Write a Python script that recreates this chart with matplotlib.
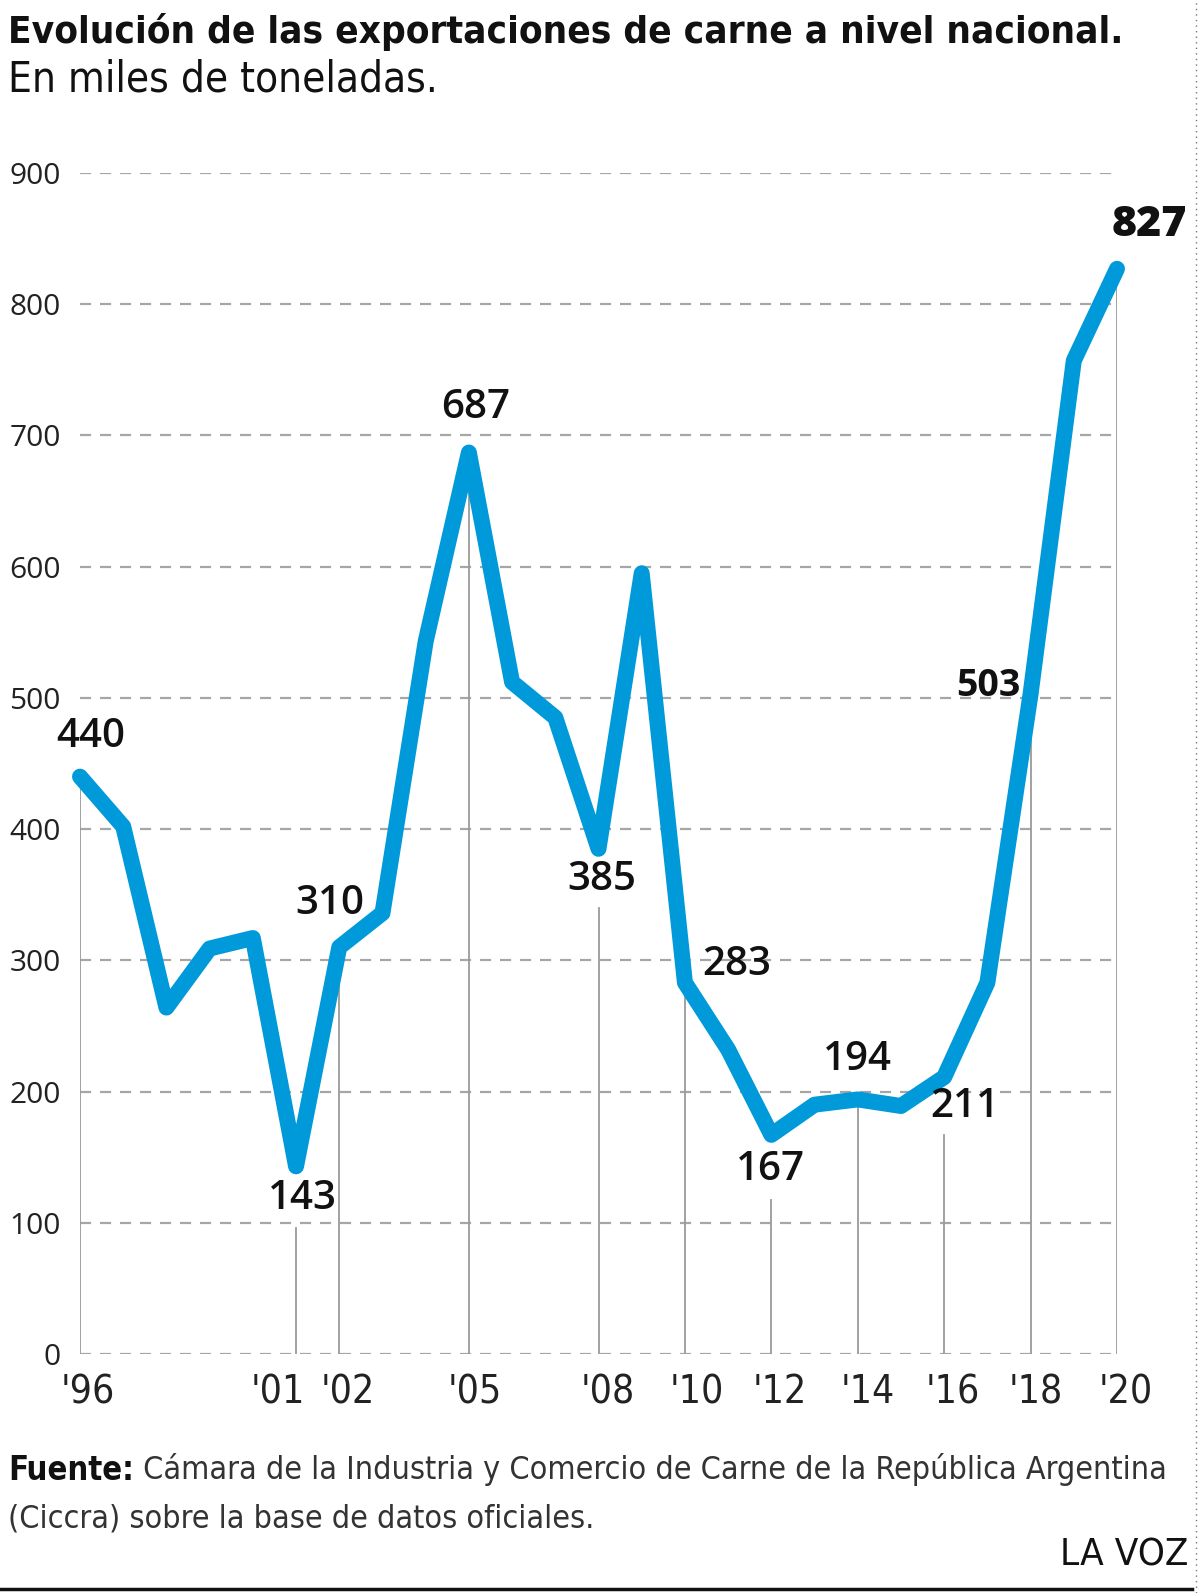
import matplotlib
matplotlib.use("Agg")
import matplotlib.pyplot as plt
from matplotlib.lines import Line2D
from matplotlib import font_manager as fm
from matplotlib.transforms import ScaledTranslation

# ---- data ----
years = list(range(1996, 2021))
exports = [440, 402, 264, 309, 317, 143, 310, 336, 543, 687, 512, 485, 385, 595,
           283, 232, 167, 190, 194, 189, 211, 283, 503, 757, 827]
yticks = [0, 100, 200, 300, 400, 500, 600, 700, 800, 900]
xtick_years = [1996, 2001, 2002, 2005, 2008, 2010, 2012, 2014, 2016, 2018, 2020]
xtick_labels = ["'96", "'01", "'02", "'05", "'08", "'10", "'12", "'14", "'16", "'18", "'20"]
drop_tops = [440, 96, 310, 687, 340, 283, 117, 194, 167, 500, 827]
label_years = [1996, 2001, 2002, 2005, 2008, 2010, 2012, 2014, 2016, 2018, 2020]
label_texts = ["440", "143", "310", "687", "385", "283", "167", "194", "211", "503", "827"]

title1 = "Evolución de las exportaciones de carne a nivel nacional."
title2 = "En miles de toneladas."
source_bold = "Fuente:"
source_rest1 = " Cámara de la Industria y Comercio de Carne de la República Argentina"
source_rest2 = "(Ciccra) sobre la base de datos oficiales."
brand = "LA VOZ"

W, H = 1200, 1593
fig = plt.figure(figsize=(W / 100, H / 100), dpi=100)
fig.patch.set_facecolor("white")


def fx(px):
    return px / W


def fy(py):
    return 1 - py / H


# ---- find a condensed font if any is installed ----
def find_condensed(bold):
    best = None
    for f in fm.fontManager.ttflist:
        nm = (f.name + " " + f.fname).lower()
        is_cond = ("narrow" in nm or "condensed" in nm or
                   (isinstance(f.stretch, str) and "condensed" in f.stretch))
        if not is_cond or "extra" in nm or "ultra" in nm:
            continue
        w = f.weight if isinstance(f.weight, int) else (700 if "bold" in str(f.weight) else 400)
        if "italic" in nm or "oblique" in nm or f.style != "normal":
            continue
        if bold and 600 <= w <= 700:
            return f.fname
        if not bold and 350 <= w <= 450:
            best = best or f.fname
    return best


cond_reg_path = find_condensed(False)
cond_bold_path = find_condensed(True)


def cprops(bold=False):
    p = cond_bold_path if bold else cond_reg_path
    if p:
        return fm.FontProperties(fname=p)
    return fm.FontProperties(family="Open Sans", weight="bold" if bold else "normal")


renderer = fig.canvas.get_renderer()


def fit_text(x, y, s, width_px, props, size0, **kw):
    props = props.copy()
    props.set_size(size0)
    t = fig.text(fx(x), fy(y), s, fontproperties=props, **kw)
    for _ in range(3):
        wcur = t.get_window_extent(renderer).width
        if wcur <= 0:
            break
        props.set_size(props.get_size() * width_px / wcur)
        t.set_fontproperties(props)
    return t


ax_left, ax_right, ax_top, ax_bot = 80, 1117, 173, 1354
ax = fig.add_axes([fx(ax_left), fy(ax_bot), (ax_right - ax_left) / W, (ax_bot - ax_top) / H])
ax.set_xlim(1996, 2020)
ax.set_ylim(0, 900)
for s in ax.spines.values():
    s.set_visible(False)

reg = ["Open Sans", "DejaVu Sans"]

# grid
for v in yticks:
    ax.axhline(v, color="#a6a6a6", lw=1.6, ls=(0, (5, 4)), zorder=1)

ax.set_yticks(yticks)
ax.set_yticklabels([str(v) for v in yticks], family=reg, fontsize=21.5, color="#222222")
ax.tick_params(axis="y", length=0, pad=14)

ax.set_xticks(xtick_years)
ax.tick_params(axis="x", length=0, pad=12)
ax.set_xticklabels([])
tick_shift = {1996: 8, 2001: -18, 2002: 9, 2005: 6, 2008: 9, 2010: 12,
              2012: 8, 2014: 10, 2016: 9, 2018: 5, 2020: 9}
xprops = cprops(False)
for yr, lab in zip(xtick_years, xtick_labels):
    p = xprops.copy()
    p.set_size(28 if cond_reg_path else 22)
    tr = ax.get_xaxis_transform() + ScaledTranslation(tick_shift[yr] / 100, 0, fig.dpi_scale_trans)
    ax.text(yr, -38 / (ax_bot - ax_top), lab, transform=tr, ha="center", va="center",
            fontproperties=p, color="#222222")

# drop lines
for yr, top in zip(label_years, drop_tops):
    ax.plot([yr, yr], [0, top], color="#9a9a9a", lw=1.3, zorder=2)

# main line
ax.plot(years, exports, color="#009ADB", lw=11.5, solid_capstyle="round",
        solid_joinstyle="round", zorder=3, clip_on=False)

# value labels: offsets in pixels (dx, dy down-positive)
offsets = {1996: (11, -40), 2001: (6, 33), 2002: (-9, -43), 2005: (7, -45),
           2008: (3, 31), 2010: (52, -18), 2012: (-1, 35), 2014: (0, -39),
           2016: (21, 30), 2018: (-42, -8), 2020: (32, -44)}
vals = dict(zip(years, exports))
for yr, txt in zip(label_years, label_texts):
    dx, dy = offsets[yr]
    if yr == 2020:
        kw = dict(fontsize=31, fontweight="heavy", family=reg)
    elif yr == 2018:
        kw = dict(fontsize=27, fontweight="bold", family=reg)
    else:
        kw = dict(fontsize=29, fontweight="semibold", family=reg)
    ax.annotate(txt, (yr, vals[yr]), xytext=(dx * 0.72, -dy * 0.72),
                textcoords="offset points", ha="center", va="center",
                color="#111111", zorder=5, annotation_clip=False, **kw)

# titles
fit_text(8, 32, title1, 1114, cprops(True), 30, color="#111111", ha="left", va="center")
fit_text(8, 80, title2, 430, cprops(False), 30, color="#111111", ha="left", va="center")

# source
t_b = fit_text(8, 1470, source_bold, 126, cprops(True), 27, color="#111111",
               ha="left", va="center")
bb = t_b.get_window_extent(renderer)
fit_text(bb.x1, 1470, source_rest1, 1168 - bb.x1, cprops(False), 27,
         color="#333333", ha="left", va="center")
fit_text(8, 1519, source_rest2, 588, cprops(False), 27, color="#333333",
         ha="left", va="center")
fit_text(1060, 1556, brand, 128, cprops(False), 27, color="#111111",
         ha="left", va="center")

# page decorations
fig.add_artist(Line2D([0, fx(1192)], [fy(1589), fy(1589)], transform=fig.transFigure,
                      color="#111111", lw=2.5))
fig.add_artist(Line2D([fx(1196), fx(1196)], [0, 1], transform=fig.transFigure,
                      color="#777777", lw=1, ls=(0, (1, 3))))

fig.savefig("out.png", dpi=100, facecolor="white")
